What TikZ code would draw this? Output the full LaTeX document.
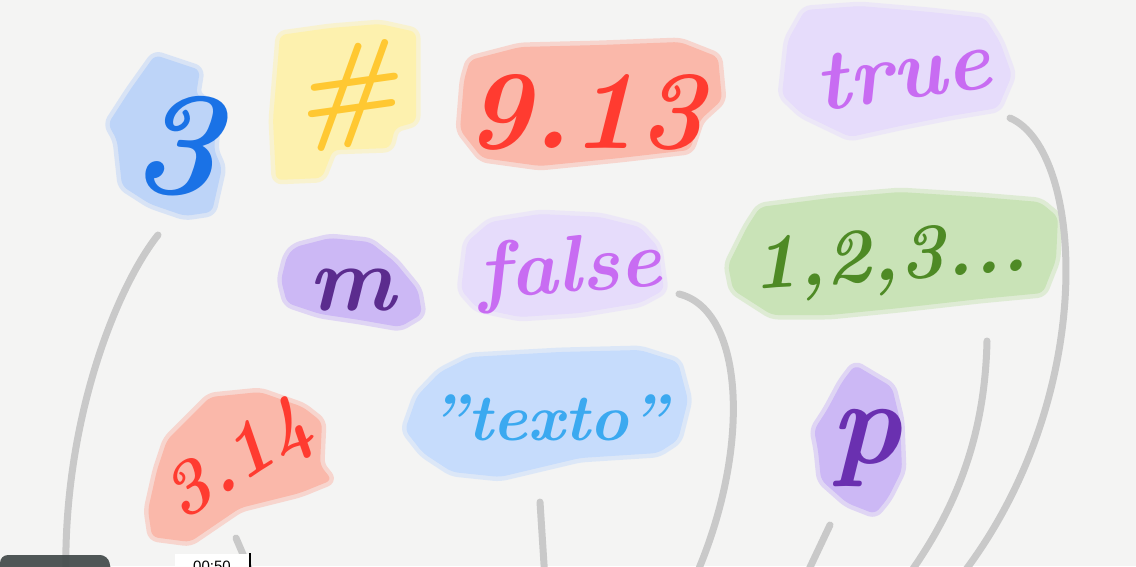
\documentclass[tikz,border=0pt]{standalone}
\usepackage{fontspec}
\newfontfamily\tsfont{Liberation Sans}
\definecolor{bgc}{HTML}{F4F4F3}
\definecolor{curvec}{HTML}{C9C9C9}
\definecolor{pblue}{HTML}{BDD4F8}
\definecolor{tblue}{HTML}{1A72E6}
\definecolor{pyellow}{HTML}{FDF1AE}
\definecolor{tyellow}{HTML}{FFC832}
\definecolor{pred}{HTML}{FAB8AA}
\definecolor{tred}{HTML}{FF3B30}
\definecolor{plav}{HTML}{E6DCFB}
\definecolor{tlav}{HTML}{C86CF2}
\definecolor{ppurp}{HTML}{CCB8F5}
\definecolor{tpurp}{HTML}{5B2C8E}
\definecolor{tpurpp}{HTML}{6A30B0}
\definecolor{pgreen}{HTML}{C9E3B7}
\definecolor{tgreen}{HTML}{4E8A25}
\definecolor{psky}{HTML}{C6DCFC}
\definecolor{tsky}{HTML}{3BA9F0}
\definecolor{barc}{HTML}{424949}
\tikzset{
  patch/.style={fill=#1, draw=#1, draw opacity=0.5, line width=9pt, rounded corners=6pt, line join=round},
  word/.style={inner sep=0pt, text=#1, font=\bfseries\itshape},
  link/.style={draw=curvec, line width=7pt, line cap=round},
}
\begin{document}
\begin{tikzpicture}[x=1pt,y=-1pt]
\fill[bgc] (0,0) rectangle (1136,566);
\useasboundingbox (0,0) rectangle (1136,566);
\clip (0,0) rectangle (1136,566);

% patches
\path[patch=pblue] (155,55) -- (200,70) -- (196,95) -- (218,108) -- (214,150) -- (222,168) -- (212,212) -- (185,216) -- (150,204) -- (122,186) -- (117,140) -- (108,124) -- (130,90) -- cycle;
\path[patch=pyellow] (280,35) -- (330,28) -- (380,24) -- (416,32) -- (416,122) -- (395,128) -- (390,148) -- (333,150) -- (322,178) -- (276,180) -- (273,120) -- cycle;
\path[patch=pred] (470,60) -- (520,47) -- (600,45) -- (680,42) -- (718,57) -- (722,100) -- (700,120) -- (690,150) -- (620,158) -- (540,166) -- (482,158) -- (460,130) -- (464,80) -- cycle;
\path[patch=plav] (805,10) -- (860,6) -- (930,12) -- (985,18) -- (1000,42) -- (1012,75) -- (998,108) -- (950,116) -- (900,126) -- (850,137) -- (802,114) -- (782,95) -- (788,40) -- cycle;
\path[patch=ppurp] (295,247) -- (330,238) -- (370,242) -- (395,262) -- (418,290) -- (422,314) -- (400,327) -- (360,320) -- (320,314) -- (287,303) -- (281,280) -- (287,256) -- cycle;
\path[patch=plav] (490,222) -- (540,214) -- (600,217) -- (640,227) -- (658,247) -- (664,290) -- (640,303) -- (580,313) -- (520,317) -- (477,308) -- (461,290) -- (467,242) -- cycle;
\path[patch=pgreen] (760,207) -- (830,198) -- (900,192) -- (980,197) -- (1040,202) -- (1058,217) -- (1056,260) -- (1043,293) -- (980,299) -- (900,308) -- (830,315) -- (772,315) -- (733,290) -- (728,265) -- (747,227) -- cycle;
\path[patch=psky] (440,372) -- (470,357) -- (560,352) -- (640,350) -- (678,362) -- (688,400) -- (678,440) -- (658,453) -- (580,458) -- (500,477) -- (452,472) -- (423,453) -- (405,430) -- (417,396) -- cycle;
\path[patch=pred] (167,440) -- (210,397) -- (260,392) -- (303,407) -- (322,422) -- (320,465) -- (332,480) -- (300,493) -- (240,508) -- (190,542) -- (152,537) -- (148,510) -- (157,470) -- cycle;
\path[patch=ppurp] (855,365) -- (892,387) -- (900,420) -- (902,470) -- (888,498) -- (875,514) -- (847,503) -- (821,480) -- (818,450) -- (814,430) -- (827,410) -- (842,382) -- cycle;

% texts
\node[word=tblue, rotate=-4] (three) at (176,145) {\fontsize{150}{150}\selectfont 3};
\node[word=tyellow, rotate=8] (hash) at (346,96) {\fontsize{115}{115}\selectfont\#};
\node[word=tred] (ninethirteen) at (585,112) {\fontsize{112}{112}\selectfont 9.13};
\node[word=tlav, rotate=8] (true) at (903,72) {\fontsize{86}{86}\selectfont true};
\node[word=tpurp] (m) at (352,290) {\fontsize{92}{92}\selectfont m};
\node[word=tlav, rotate=4] (false) at (570,272) {\fontsize{80}{80}\selectfont false};
\node[word=tgreen, rotate=4] (list) at (890,262) {\fontsize{78}{78}\selectfont 1,2,3...};
\node[word=tsky] (texto) at (548,418) {\fontsize{66}{66}\selectfont "texto"};
\node[word=tred, rotate=33] (pi) at (240,464) {\fontsize{76}{76}\selectfont 3.14};
\node[word=tpurpp] (p) at (866,448) {\fontsize{120}{120}\selectfont p};

% connectors
\coordinate (a1) at (158,235); \coordinate (a2) at (66,580);
\coordinate (b1) at (236,538); \coordinate (b2) at (254,580);
\coordinate (c1) at (540,502); \coordinate (c2) at (545,580);
\coordinate (d1) at (679,294); \coordinate (d2) at (694,580);
\coordinate (e1) at (830,525); \coordinate (e2) at (804,580);
\coordinate (f1) at (987,341); \coordinate (f2) at (905,580);
\coordinate (g1) at (1010,118); \coordinate (g2) at (958,580);
\draw[link] (a1) .. controls (118,285) and (62,420) .. (a2);
\draw[link] (b1) -- (b2);
\draw[link] (c1) -- (c2);
\draw[link] (d1) .. controls (745,310) and (752,450) .. (d2);
\draw[link] (e1) -- (e2);
\draw[link] (f1) .. controls (985,430) and (960,505) .. (f2);
\draw[link] (g1) .. controls (1085,150) and (1100,400) .. (g2);

% video overlay
\fill[barc, opacity=0.92, rounded corners=8pt] (0,555) -- (108,555) -- (112,575) -- (0,575) -- cycle;
\fill[white] (175,554) rectangle (249,570);
\draw[black, line width=1.2pt] (250,553) -- (250,570);
\node[anchor=north, inner sep=0pt, font=\tsfont\fontsize{15}{15}\selectfont] (time) at (212,561) {00:50};
\end{tikzpicture}
\end{document}
